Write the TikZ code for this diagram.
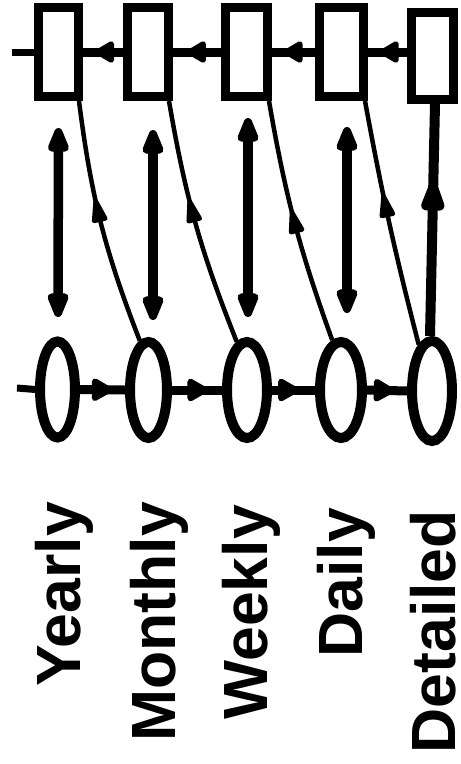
\documentclass[tikz,border=0pt]{standalone}
\usepackage{fontspec}
\setmainfont{Liberation Sans}
\usetikzlibrary{arrows.meta,shapes.geometric,decorations.markings}

\tikzset{
  hhead/.tip={Triangle[length=22pt,width=24pt,round]},
  bhead/.tip={Triangle[length=24pt,width=25pt,round]},
  vhead/.tip={Triangle[length=32pt,width=22pt,round]},
  dhead/.tip={Triangle[length=30pt,width=16pt,round]},
  bighead/.tip={Triangle[length=40pt,width=24pt,round]},
}

\begin{document}
\begin{tikzpicture}[
  x=1pt, y=1pt,
  box/.style={draw, line width=9pt, minimum width=41pt, minimum height=89pt, inner sep=0pt},
  oval/.style={draw, ellipse, line width=10pt, minimum width=39pt, minimum height=96pt, inner sep=0pt},
  topchain/.style={line width=9pt},
  lowchain/.style={line width=9pt},
  stub/.style={line width=7pt},
  feed/.style={line width=4.5pt},
  both/.style={line width=9.5pt, vhead-vhead},
  midtip/.style 2 args={postaction={decorate},
    decoration={markings, mark=at position #1 with {\arrow{#2}}}},
  lbl/.style={rotate=90, anchor=base east, inner sep=0pt,
    font=\fontsize{62.5}{62.5}\selectfont\bfseries},
]
\useasboundingbox (0,0) rectangle (461,-764);
\fill[white] (0,0) rectangle (461,-764);

% upper row: rectangles
\node[box, minimum width=40pt] (r1) at (58.5,-52) {};
\node[box] (r2) at (148,-52) {};
\node[box, minimum width=42pt] (r3) at (246.5,-52) {};
\node[box, minimum width=44pt] (r4) at (341.5,-52) {};
\node[box, minimum width=42pt, minimum height=87pt] (r5) at (432.5,-56) {};

% lower row: ellipses
\node[oval, minimum width=35pt] (e1) at (57.5,-389.5) {};
\node[oval, minimum width=37pt] (e2) at (148.5,-390) {};
\node[oval, minimum width=40pt] (e3) at (247,-390) {};
\node[oval, minimum width=42pt] (e4) at (341,-390) {};
\node[oval, minimum width=40pt, minimum height=100pt] (e5) at (432,-391) {};

% upper chain, pointing leftwards
\coordinate (tin) at (12,-52);
\draw[stub] (tin) -- (r1.west);
\draw[topchain, midtip={0.7}{hhead}] (r2.west) -- (r1.east);
\draw[topchain, midtip={0.71}{hhead}] (r3.west) -- (r2.east);
\draw[topchain, midtip={0.73}{hhead}] (r4.west) -- (r3.east);
\draw[topchain, midtip={0.7}{hhead}] (r5.west |- r4.east) -- (r4.east);

% lower chain, pointing rightwards
\coordinate (bin) at (17,-388);
\draw[stub] (bin) -- (e1.west);
\draw[lowchain, midtip={0.72}{bhead}] (e1.east) -- (e2.west);
\draw[lowchain, midtip={0.72}{bhead}] (e2.east) -- (e3.west);
\draw[lowchain, midtip={0.62}{bhead}] (e3.east) -- (e4.west);
\draw[lowchain, midtip={0.68}{bhead}] (e4.east) -- (e5.west);

% two-way links between the rows
\draw[both, shorten <=27pt, shorten >=19.5pt] (r1.south) -- ([xshift=0.5pt]e1.north);
\draw[both, shorten <=29pt, shorten >=17pt] ([xshift=5pt]r2.south) -- ([xshift=4.5pt]e2.north);
\draw[both, shorten <=17pt, shorten >=20pt] ([xshift=1.5pt]r3.south) -- ([xshift=1pt]e3.north);
\draw[both, shorten <=26pt, shorten >=24pt] ([xshift=5.5pt]r4.south) -- ([xshift=6pt]e4.north);

% feedback from each ellipse to the rectangle of the coarser level
\draw[feed, midtip={0.6}{dhead}] (e2.100) to[bend left=7] ([xshift=-4pt]r1.south east);
\draw[feed, midtip={0.6}{dhead}] (e3.102) to[bend left=6] ([xshift=-4pt]r2.south east);
\draw[feed, midtip={0.55}{dhead}] (e4.100) to[bend left=5] ([xshift=-3pt]r3.south east);
\draw[feed, midtip={0.62}{dhead}] (e5.106) to[bend left=2] ([xshift=-3pt]r4.south east);
\draw[line width=10pt, midtip={0.66}{bighead}] ([xshift=-2pt]e5.north) -- ([xshift=2.5pt]r5.south);

% level names
\node[lbl] (l1) at (80,-502) {Yearly};
\node[lbl] (l2) at (175,-502) {Monthly};
\node[lbl] (l3) at (267,-505) {Weekly};
\node[lbl] (l4) at (362,-508) {Daily};
\node[lbl] (l5) at (455,-510) {Detailed};
\end{tikzpicture}
\end{document}
